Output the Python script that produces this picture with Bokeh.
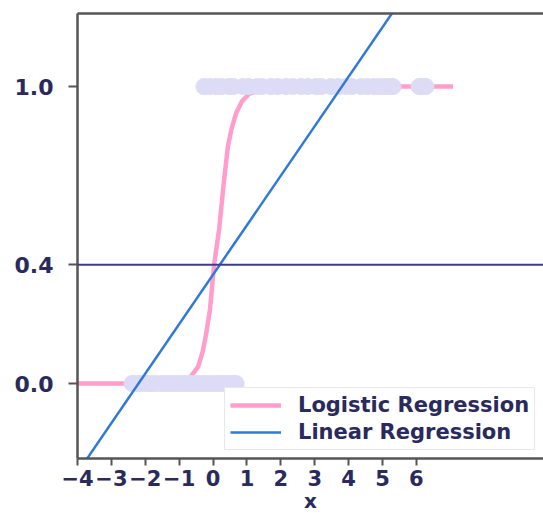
from bokeh.plotting import figure
from bokeh.models import (FixedTicker, CustomJSTickFormatter, PrintfTickFormatter,
                          Span, LinearAxis, Legend, LegendItem, Range1d)
from bokeh.embed import file_html
from bokeh.resources import INLINE

# ---- data ----
class0_x = [-2.39, -2.25, -2.12, -1.95, -1.83, -1.7, -1.53, -1.4, -1.24, -1.1, -0.94,
            -0.8, -0.65, -0.5, -0.35, -0.2, -0.06, 0.1, 0.24, 0.35, 0.47, 0.6, 0.68]
class0_y = [0, 0, 0, 0, 0, 0, 0, 0, 0, 0, 0, 0, 0, 0, 0, 0, 0, 0, 0, 0, 0, 0, 0]
class1_x = [-0.27, -0.1, 0.09, 0.25, 0.47, 0.6, 0.88, 1.05, 1.3, 1.45, 1.71, 1.9,
            2.15, 2.35, 2.6, 2.8, 3.04, 3.2, 3.48, 3.7, 3.92, 4.1, 4.37, 4.55,
            4.75, 4.9, 5.07, 5.2, 5.31, 6.08, 6.18, 6.28]
class1_y = [1, 1, 1, 1, 1, 1, 1, 1, 1, 1, 1, 1, 1, 1, 1, 1, 1, 1, 1, 1, 1, 1, 1, 1,
            1, 1, 1, 1, 1, 1, 1, 1]

logistic_x = [-4.0, -1.5, -1.0, -0.7, -0.44, -0.3, -0.2, -0.09, 0.03, 0.18, 0.32,
              0.44, 0.55, 0.68, 0.85, 1.06, 1.4, 2.0, 7.08]
logistic_y = [0.0, 0.0, 0.003, 0.017, 0.057, 0.11, 0.17, 0.25, 0.40, 0.52, 0.68,
              0.80, 0.86, 0.91, 0.95, 0.975, 0.99, 1.0, 1.0]

linear_x = [-4.0, 9.8]
linear_y = [-0.30, 2.00]

threshold = 0.4

x_ticks = [-4, -3, -2, -1, 0, 1, 2, 3, 4, 5, 6]
y_ticks = [0.0, 0.4, 1.0]

legend_labels = ["Logistic Regression", "Linear Regression"]
x_label = "x"

TEXT = "#2a2a5c"
SPINE = "#555555"
FONT = "DejaVu Sans"

p = figure(width=543, height=515, output_backend="svg", toolbar_location=None,
           x_range=Range1d(-4.0, 9.75), y_range=Range1d(-0.2525, 1.246),
           min_border_left=77, min_border_right=0, min_border_top=13, min_border_bottom=57,
           background_fill_color="white", border_fill_color="white")
p.outline_line_color = None
p.grid.visible = False

# axes styling
xa = p.xaxis[0]
xa.ticker = FixedTicker(ticks=x_ticks)
xa.formatter = CustomJSTickFormatter(code="return tick < 0 ? '\\u2212' + Math.abs(tick) : String(tick);")
xa.major_tick_out = 7
xa.major_tick_in = 0
xa.minor_tick_out = 0
xa.minor_tick_in = 0
xa.major_label_standoff = 4
xa.axis_label = x_label
xa.axis_label_standoff = 0
xa.axis_label_text_font = FONT
xa.axis_label_text_font_style = "bold"
xa.axis_label_text_font_size = "20px"
xa.axis_label_text_color = TEXT

ya = p.yaxis[0]
ya.ticker = FixedTicker(ticks=y_ticks)
ya.formatter = PrintfTickFormatter(format="%.1f")
ya.major_tick_out = 9
ya.major_tick_in = 0
ya.minor_tick_out = 0
ya.minor_tick_in = 0
ya.major_label_standoff = 15

for ax in (xa, ya):
    ax.axis_line_color = SPINE
    ax.axis_line_width = 2.5
    ax.major_tick_line_color = SPINE
    ax.major_tick_line_width = 2
    ax.major_label_text_font = FONT
    ax.major_label_text_font_style = "bold"
    ax.major_label_text_color = TEXT
xa.major_label_text_font_size = "21px"
ya.major_label_text_font_size = "22px"

top = LinearAxis(ticker=FixedTicker(ticks=[]), major_tick_out=0, major_tick_in=0,
                 minor_tick_out=0, minor_tick_in=0, major_label_text_font_size="0px",
                 axis_line_color=SPINE, axis_line_width=2.5)
p.add_layout(top, "above")

# threshold line
p.add_layout(Span(location=threshold, dimension="width", line_color="#3c3c8a", line_width=2))

# marks
r_log = p.line(logistic_x, logistic_y, line_color="#ff9ecd", line_width=4.5)
p.scatter(class0_x, class0_y, size=16, fill_color="#dcdcf7", line_color="#dcdcf7")
p.scatter(class1_x, class1_y, size=16, fill_color="#dcdcf7", line_color="#dcdcf7")
r_lin = p.line(linear_x, linear_y, line_color="#2f7ad8", line_width=2.5)

legend = Legend(items=[LegendItem(label=legend_labels[0], renderers=[r_log]),
                       LegendItem(label=legend_labels[1], renderers=[r_lin])],
                location=(147, 8))
legend.glyph_width = 51
legend.glyph_height = 20
legend.label_standoff = 17
legend.padding = 5
legend.spacing = 3
legend.margin = 0
legend.label_text_font = FONT
legend.label_text_font_style = "bold"
legend.label_text_font_size = "21px"
legend.label_text_color = TEXT
legend.border_line_color = "#d0d0e2"
legend.border_line_width = 1.5
legend.background_fill_color = "white"
legend.background_fill_alpha = 1
p.add_layout(legend)

open("out.html", "w").write(file_html(p, INLINE))
